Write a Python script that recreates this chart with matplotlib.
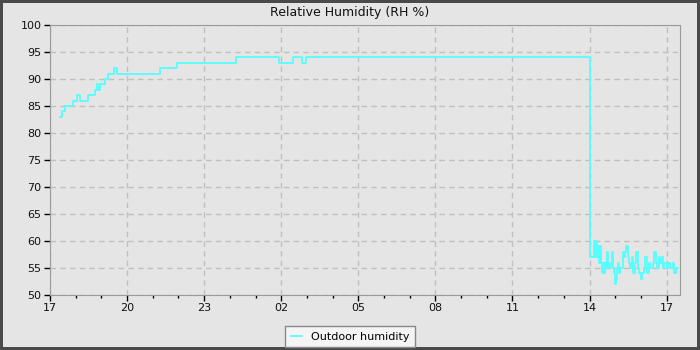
import matplotlib
matplotlib.use('Agg')
import matplotlib.pyplot as plt
from matplotlib.ticker import MultipleLocator, FixedLocator
import numpy as np

# minutes after 17:00 on the first day, humidity in %
minutes = [23, 27, 35, 54, 62, 70, 89, 105, 109, 113, 117, 128, 136, 150, 156,
           258, 297, 434, 534, 567, 588, 597,
           1262, 1263, 1267, 1270, 1273, 1275, 1277, 1279, 1282, 1284, 1287, 1289,
           1291, 1294, 1296, 1298, 1301, 1303, 1305, 1309, 1312, 1315, 1317,
           1319, 1322, 1324, 1326, 1329, 1331, 1333, 1337, 1340, 1343, 1346,
           1350, 1352, 1355, 1358, 1361, 1365, 1368, 1372, 1375, 1379, 1382,
           1386, 1389, 1393, 1395, 1399, 1402, 1407, 1410, 1414, 1417, 1421,
           1424, 1428, 1431, 1435, 1440, 1444, 1449, 1454, 1458, 1463, 1467]
humidity = [83, 84, 85, 86, 87, 86, 87, 88, 89, 88, 89, 90, 91, 92, 91,
            92, 93, 94, 93, 94, 93, 94,
            57, 57, 57, 60, 57, 60, 57, 59, 56, 59, 56, 54,
            56, 54, 56, 55, 58, 56, 55, 56, 58, 55, 54,
            52, 53, 55, 56, 54, 55, 55, 58, 57, 58, 59,
            57, 56, 55, 57, 54, 56, 58, 55, 54, 53, 54,
            55, 57, 55, 54, 56, 55, 56, 58, 56, 55, 57,
            56, 57, 55, 56, 55, 56, 55, 56, 54, 55, 55]

tick_labels = ['17', '20', '23', '02', '05', '08', '11', '14', '17']

bg = '#e5e5e5'
fig = plt.figure(figsize=(7, 3.5), dpi=100, facecolor=bg,
                 edgecolor='#4a4a4a', linewidth=3)
ax = fig.add_axes([50 / 700, 55 / 350, 630 / 700, 270 / 350])
ax.set_facecolor(bg)

hours = np.array(minutes) / 60.0
ax.plot(hours, humidity, drawstyle='steps-post', color='#55ffff', lw=1.3,
        label='Outdoor humidity')

ax.set_xlim(0, 24.52)
ax.set_ylim(50, 100)
ax.xaxis.set_major_locator(FixedLocator(np.arange(0, 25, 3)))
ax.set_xticklabels(tick_labels)
ax.xaxis.set_minor_locator(MultipleLocator(1))
ax.yaxis.set_major_locator(MultipleLocator(5))

ax.grid(True, which='major', ls=(0, (4, 3)), color='#c0c0c0', lw=1)
for s in ax.spines.values():
    s.set_color('#9a9a9a')
ax.tick_params(axis='both', which='major', direction='out', length=4,
               width=1, color='black', labelsize=8, labelcolor='#111111', pad=2)
ax.tick_params(axis='x', which='minor', direction='out', length=2.5,
               width=1, color='black')

fig.text(0.5, 1 - 12.5 / 350, 'Relative Humidity (RH %)', ha='center',
         va='center', fontsize=9, color='#111111')

leg = fig.legend(loc='center', bbox_to_anchor=(0.5, 1 - 336.5 / 350),
                 fontsize=8, fancybox=False, framealpha=1,
                 facecolor='#f4f4f4', edgecolor='#888888', handlelength=1.0,
                 borderpad=0.5)
leg.get_frame().set_linewidth(1)

plt.savefig('out.png', dpi=100, facecolor=fig.get_facecolor(),
            edgecolor=fig.get_edgecolor())
